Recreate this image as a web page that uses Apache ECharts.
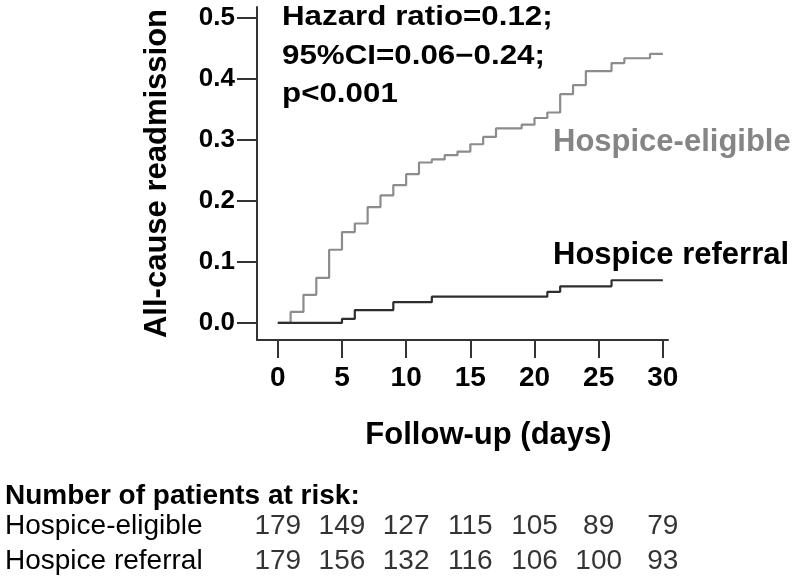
<!DOCTYPE html>
<html>
<head>
<meta charset="utf-8">
<script src="https://cdn.jsdelivr.net/npm/echarts@6/dist/echarts.min.js"></script>
<style>html,body{margin:0;padding:0;background:#fff;}#main{width:800px;height:583px;}</style>
</head>
<body>
<div id="main"></div>
<script>
// Data
const xTicks = [0, 5, 10, 15, 20, 25, 30];
const yTicks = [0, 0.1, 0.2, 0.3, 0.4, 0.5];

const eligibleDays   = [0, 1, 2, 3, 4, 5, 6, 7, 8, 9, 10, 11, 12, 13, 14, 15, 16, 17, 19, 20, 21, 22, 23, 24, 26, 27, 29, 30];
const eligibleValues = [0, 0.018, 0.046, 0.074, 0.120, 0.149, 0.163, 0.190, 0.209, 0.226, 0.244, 0.263, 0.268, 0.275, 0.281, 0.293, 0.305, 0.319, 0.325, 0.336, 0.345, 0.375, 0.390, 0.413, 0.426, 0.434, 0.441, 0.441];

const referralDays   = [0, 5, 6, 9, 12, 21, 22, 26, 30];
const referralValues = [0, 0.0066, 0.021, 0.034, 0.043, 0.051, 0.060, 0.070, 0.070];

const riskDays = [0, 5, 10, 15, 20, 25, 30];
const riskGroups = ['Hospice-eligible', 'Hospice referral'];
const eligibleAtRisk = [179, 149, 127, 115, 105, 89, 79];
const referralAtRisk = [179, 156, 132, 116, 106, 100, 93];

const annotationLines = ['Hazard ratio=0.12;', '95%CI=0.06\u22120.24;', 'p<0.001'];

const pair = (xs, ys) => xs.map((x, i) => [x, ys[i]]);
const riskData = [];
eligibleAtRisk.forEach((v, i) => riskData.push([riskDays[i], 0, v]));
referralAtRisk.forEach((v, i) => riskData.push([riskDays[i], 1, v]));

const chart = echarts.init(document.getElementById('main'), null, {renderer: 'canvas'});
const axisColor = '#333';
const annoFont = 'bold 27px "Liberation Sans"';
chart.setOption({
  animation: false,
  backgroundColor: '#fff',
  grid: [
    {left: 257, top: 7, width: 411, height: 333},
    {left: 257, top: 509, width: 411, height: 70}
  ],
  xAxis: [{
    type: 'value', gridIndex: 0, min: -1.62, max: 30.4,
    axisLine: {show: true, onZero: false, lineStyle: {color: axisColor, width: 2}},
    axisTick: {show: true, customValues: xTicks, length: 18, lineStyle: {color: axisColor, width: 2}},
    axisLabel: {customValues: xTicks, margin: 24, color: '#000', fontFamily: 'Liberation Sans', fontWeight: 'bold', fontSize: 28},
    splitLine: {show: false},
    name: 'Follow-up (days)', nameLocation: 'middle', nameGap: 80,
    nameTextStyle: {color: '#000', fontFamily: 'Liberation Sans', fontWeight: 'bold', fontSize: 31, padding: [0, 0, 0, 52], verticalAlign: 'top'}
  }, {
    type: 'value', gridIndex: 1, min: -1.62, max: 30.4, show: false
  }],
  yAxis: [{
    type: 'value', gridIndex: 0, min: -0.028, max: 0.518,
    axisLine: {show: true, onZero: false, lineStyle: {color: axisColor, width: 2}},
    axisTick: {show: true, customValues: yTicks, length: 20, lineStyle: {color: axisColor, width: 2}},
    axisLabel: {customValues: yTicks, margin: 22, formatter: v => v.toFixed(1), color: '#000', fontFamily: 'Liberation Sans', fontWeight: 'bold', fontSize: 26},
    splitLine: {show: false},
    name: 'All-cause readmission', nameLocation: 'middle', nameGap: 84, nameRotate: 90,
    nameTextStyle: {color: '#000', fontFamily: 'Liberation Sans', fontWeight: 'bold', fontSize: 31}
  }, {
    type: 'category', gridIndex: 1, data: riskGroups, inverse: true, show: false
  }],
  series: [{
    name: 'Hospice-eligible', type: 'line', step: 'end', xAxisIndex: 0, yAxisIndex: 0,
    data: pair(eligibleDays, eligibleValues), showSymbol: false,
    lineStyle: {color: '#8c8c8c', width: 2.2}
  }, {
    name: 'Hospice referral', type: 'line', step: 'end', xAxisIndex: 0, yAxisIndex: 0,
    data: pair(referralDays, referralValues), showSymbol: false,
    lineStyle: {color: '#2e2e2e', width: 2.2}
  }, {
    name: 'At risk', type: 'scatter', xAxisIndex: 1, yAxisIndex: 1,
    data: riskData, symbolSize: 1, itemStyle: {color: 'rgba(0,0,0,0)'},
    label: {show: true, position: 'inside', formatter: p => String(p.value[2]), color: '#000', fontFamily: 'Liberation Sans', fontSize: 28}
  }],
  graphic: [
    {type: 'text', x: 282, y: 4, scaleX: 1.16, style: {text: annotationLines[0], fill: '#000', font: annoFont}},
    {type: 'text', x: 282, y: 43, scaleX: 1.16, style: {text: annotationLines[1], fill: '#000', font: annoFont}},
    {type: 'text', x: 282, y: 81, scaleX: 1.16, style: {text: annotationLines[2], fill: '#000', font: annoFont}},
    {type: 'text', left: 553, top: 127, style: {text: 'Hospice-eligible', fill: '#858585', font: 'bold 31px "Liberation Sans"'}},
    {type: 'text', left: 553, top: 240, style: {text: 'Hospice referral', fill: '#000', font: 'bold 31px "Liberation Sans"'}},
    {type: 'text', left: 5, top: 482, style: {text: 'Number of patients at risk:', fill: '#000', font: 'bold 28px "Liberation Sans"'}},
    {type: 'text', left: 5, top: 512, style: {text: riskGroups[0], fill: '#000', font: '28px "Liberation Sans"'}},
    {type: 'text', left: 5, top: 547, style: {text: riskGroups[1], fill: '#000', font: '28px "Liberation Sans"'}}
  ]
});
</script>
</body>
</html>
